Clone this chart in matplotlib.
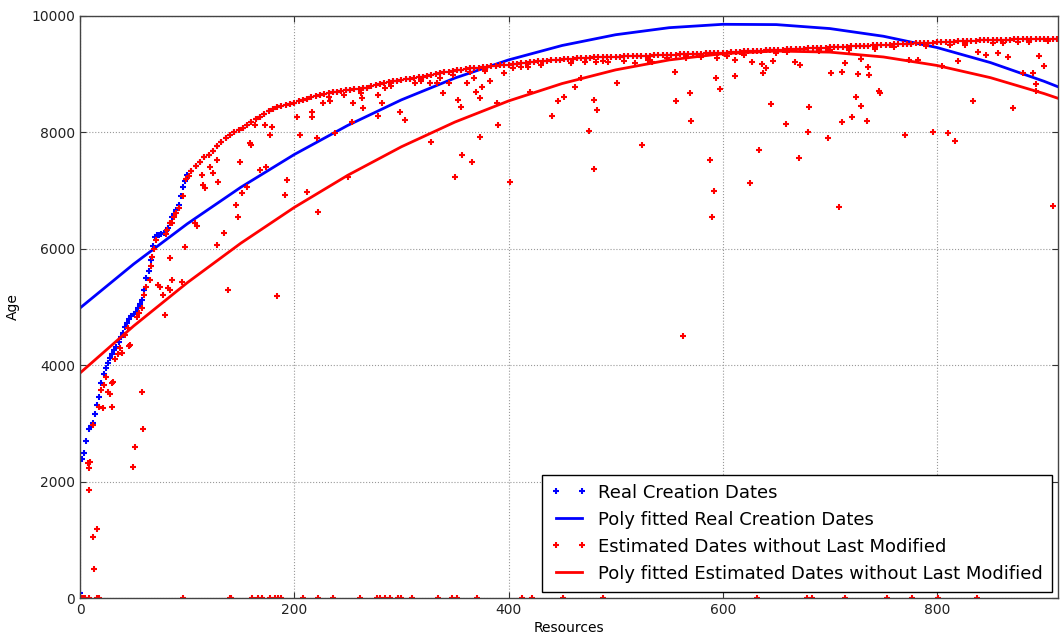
import numpy as np
import matplotlib
matplotlib.use("Agg")
import matplotlib.pyplot as plt

# ---------------- data ----------------
# Real creation dates, resources sorted by age
blue_x_left = list(range(0, 101, 2))
blue_y_left = [80, 2390, 2500, 2700, 2900, 2960, 3000, 3160, 3320, 3450,
               3690, 3850, 3950, 4040, 4120, 4200, 4260, 4310, 4400, 4480,
               4560, 4650, 4720, 4790, 4840, 4880, 4920, 4980, 5050, 5120,
               5300, 5500, 5620, 5800, 6050, 6200, 6230, 6240, 6260, 6280,
               6300, 6350, 6440, 6540, 6600, 6660, 6750, 6900, 7060, 7160,
               7260]
blue_x_right = list(range(104, 913, 4))
blue_y_right = [7330, 7420, 7490, 7570, 7620, 7680, 7760, 7830, 7900, 7960,
                8000, 8040, 8080, 8130, 8180, 8230, 8270, 8320, 8370, 8400,
                8430, 8450, 8470, 8490, 8510, 8540, 8560, 8580, 8600, 8620,
                8640, 8660, 8670, 8690, 8700, 8710, 8720, 8730, 8740, 8750,
                8760, 8770, 8790, 8810, 8830, 8850, 8860, 8880, 8890, 8900,
                8910, 8920, 8935, 8950, 8960, 8975, 8990, 9000, 9020, 9030,
                9045, 9060, 9070, 9080, 9090, 9100, 9105, 9110, 9120, 9130,
                9140, 9145, 9150, 9155, 9160,
                9170, 9180, 9190, 9200, 9205, 9215, 9225, 9230, 9235, 9240,
                9245, 9250, 9255, 9260, 9265, 9270, 9275, 9280, 9285, 9288,
                9290, 9293, 9296, 9298, 9300, 9302, 9305, 9307, 9310, 9312,
                9315, 9318, 9320, 9323, 9326, 9329, 9332, 9335, 9338, 9340,
                9343, 9346, 9349, 9352, 9355, 9357, 9359, 9361, 9363, 9365,
                9370, 9375, 9380, 9385, 9390, 9395, 9400, 9403, 9406, 9410,
                9414, 9418, 9421, 9424, 9427, 9430,
                9433, 9436, 9440, 9443, 9446, 9450, 9453, 9456, 9460, 9463,
                9466, 9470, 9473, 9476, 9480, 9483, 9486, 9490, 9494, 9497,
                9500, 9504, 9507, 9511, 9514, 9518, 9521, 9525, 9528, 9532,
                9535,
                9540, 9544, 9548, 9551, 9555, 9558, 9561, 9564, 9567, 9570,
                9573, 9576, 9579, 9582, 9585, 9587, 9589, 9591, 9593, 9595,
                9597, 9599, 9600, 9601, 9602, 9603, 9604, 9605, 9606, 9607,
                9608]

# Estimated dates that differ from the real ones
red_x = [7, 9, 8, 8, 12, 16, 13, 12, 18, 20, 21, 22, 24, 26, 28, 30, 30, 31,
         33, 35, 37, 39, 42, 45, 46, 47, 49, 51, 53, 55, 58, 58, 59, 60, 62,
         65, 66, 67, 69, 71, 73, 75, 77, 79, 80, 81, 82, 84, 84, 84, 86, 86,
         88, 90, 92, 95, 96, 98, 99, 102,
         107, 109, 114, 115, 117, 121, 124, 128, 128, 129, 134, 138, 146, 147,
         149, 151, 156, 159, 160, 163, 168, 173, 174, 177, 179, 184, 191, 193,
         203, 205, 212, 217, 217, 221, 222, 227, 233, 238, 250, 254, 255, 263,
         264, 278, 278, 282, 285, 299, 303, 313, 327, 328, 333, 339, 344, 350,
         353, 356, 357, 361, 366, 368, 370, 373, 373, 375, 383, 389, 390, 396,
         401, 418, 420, 441, 446, 452, 462, 468, 471, 475, 480, 480, 483, 482,
         493, 501, 518, 525, 534, 555, 556, 563, 569, 570, 588, 590, 592, 594,
         597, 595, 611, 611, 625, 627, 634, 637, 638, 640, 645, 647, 659, 667,
         671, 672, 681, 680, 698, 701, 709, 711, 711, 714, 721, 724, 726, 729,
         729, 735, 736, 737, 746, 747, 770, 774, 782, 796, 805, 810, 817, 820,
         834, 838, 846, 857, 866, 871, 880, 890, 892, 892, 895, 900, 908,
         232, 246, 262, 290, 318, 336, 348, 364, 378, 404, 412, 430, 458, 488,
         508, 530, 548, 566, 580, 604, 620, 650, 660, 690, 700, 718, 742, 760,
         790, 812, 826, 852, 862, 876, 886, 904]
red_y = [2320, 2340, 2230, 1860, 1050, 1190, 500, 2970, 3280, 3580, 3265,
         3660, 3800, 3540, 3500, 3280, 3700, 3710, 4100, 4200, 4300, 4210,
         4520, 4640, 4330, 4350, 2250, 2600, 4830, 4900, 4980, 3540, 2900,
         5200, 5350, 5460, 5700, 5860, 6000, 6150, 5380, 5340, 5200, 4860,
         6250, 6320, 5326, 5290, 5842, 6443, 5460, 6450, 6550, 6620, 6700,
         5430, 6900, 6030, 7200, 7250,
         6443, 6400, 7268, 7096, 7050, 7405, 7302, 7526, 6065, 7148, 6271,
         5300, 6752, 6546, 7491, 6958, 7062, 7818, 7790, 8127, 7354, 8127,
         7405, 7955, 8093, 5190, 6924, 7182, 8265, 7955, 6976, 8265, 8350,
         7904, 6632, 8505, 8540, 7990, 7234, 8179, 8505, 8591, 8419, 8643,
         8282, 8505, 8763, 8350, 8213, 8849, 8849, 7835, 8849, 8677, 8849,
         7234, 8557, 8436, 7612, 8849, 7491, 8935, 8694, 8591, 7921, 8780,
         8883, 8505, 8127, 9020, 7148, 9124, 8694, 8282, 8540, 8608, 8780,
         8935, 9210, 8024, 7371, 8557, 8385, 9210, 9210, 8849, 9192, 7783,
         9210, 9038, 8540, 4500, 8677, 8196, 7526, 6546, 6993, 8935, 8746,
         9278, 9244, 8969, 7130, 9210, 7698, 9175, 9020, 9106, 8488, 9227,
         8144, 9210, 7560, 9158, 8436, 8007, 7904, 9020, 6718, 8179, 9038,
         9192, 8265, 8608, 9003, 9261, 8454, 8196, 9124, 8986, 8711, 8680,
         7955, 9244, 9244, 8007, 9141, 7990, 7852, 9227, 8540, 9381, 9330,
         9364, 9295, 8419, 9020, 9020, 8832, 8711, 9312, 9141, 6735,
         8600, 8640, 8680, 8800, 8880, 8940, 8990, 9030, 9060, 9100, 9120,
         9160, 9190, 9220, 9230, 9250, 9270, 9280, 9300, 9310, 9330, 9360,
         9380, 9390, 9410, 9420, 9440, 9460, 9480, 9500, 9510, 9540, 9530,
         9550, 9560, 9570]
# Estimated dates equal to zero
red_zero_x = [2, 4, 5, 8, 16, 18, 96, 140, 141, 161, 166, 170, 177, 182, 185,
              188, 208, 222, 236, 261, 277, 280, 285, 289, 297, 300, 310, 334,
              347, 352, 371, 413, 422, 451, 488, 632, 679, 683, 714, 753, 777,
              801, 837]

# Polynomial fits
fit_x = [0, 50, 100, 150, 200, 250, 300, 350, 400, 450, 500, 550, 600, 650,
         700, 750, 800, 850, 900, 913]
fit_real_y = [4983, 5737, 6428, 7056, 7620, 8121, 8559, 8934, 9245, 9493,
              9678, 9799, 9857, 9852, 9784, 9652, 9458, 9199, 8878, 8784]
fit_est_y = [3866, 4673, 5416, 6095, 6711, 7264, 7753, 8178, 8540, 8839,
             9074, 9245, 9353, 9398, 9379, 9296, 9150, 8940, 8667, 8586]

# ---------------- assemble ----------------
blue_x = np.array(blue_x_left + blue_x_right)
blue_y = np.array(blue_y_left + blue_y_right)
# estimates coincide with the real dates for the later resources
est_x = np.array(blue_x_right + red_x + red_zero_x)
est_y = np.array(blue_y_right + red_y + [0] * len(red_zero_x))

# ---------------- plot ----------------
plt.rcParams['font.family'] = ['DejaVu Sans']
fig = plt.figure(figsize=(10.63, 6.37), dpi=100)
ax = fig.add_axes([0.0753, 0.0612, 0.9200, 0.9137])

ax.plot(blue_x, blue_y, '+', color='#0000ff', ms=5, mew=1.5,
        label='Real Creation Dates')
ax.plot(fit_x, fit_real_y, '-', color='#0000ff', lw=2,
        label='Poly fitted Real Creation Dates')
ax.plot(est_x, est_y, '+', color='#ff0000', ms=5, mew=1.5,
        label='Estimated Dates without Last Modified')
ax.plot(fit_x, fit_est_y, '-', color='#ff0000', lw=2,
        label='Poly fitted Estimated Dates without Last Modified')

ax.set_xlim(0, 913)
ax.set_ylim(0, 10000)
ax.set_xticks([0, 200, 400, 600, 800])
ax.set_yticks([0, 2000, 4000, 6000, 8000, 10000])
ax.grid(True, linestyle=':', color='#999999', linewidth=0.8)
ax.set_axisbelow(True)
ax.tick_params(direction='in', top=True, right=True, length=4,
               labelsize=10, colors='#333333', labelcolor='#222222')
for s in ax.spines.values():
    s.set_color('#444444')
    s.set_linewidth(1.0)

ax.set_xlabel('Resources', fontsize=10, labelpad=3)
ax.set_ylabel('Age', fontsize=10, labelpad=8)

leg = ax.legend(loc='lower right', fontsize=13, numpoints=2,
                fancybox=False, framealpha=1, edgecolor='black',
                borderaxespad=0.35, handlelength=2.0, handletextpad=0.6,
                labelspacing=0.5, borderpad=0.5, markerscale=0.8)
leg.get_frame().set_linewidth(1.0)

fig.savefig('out.png', dpi=100)
